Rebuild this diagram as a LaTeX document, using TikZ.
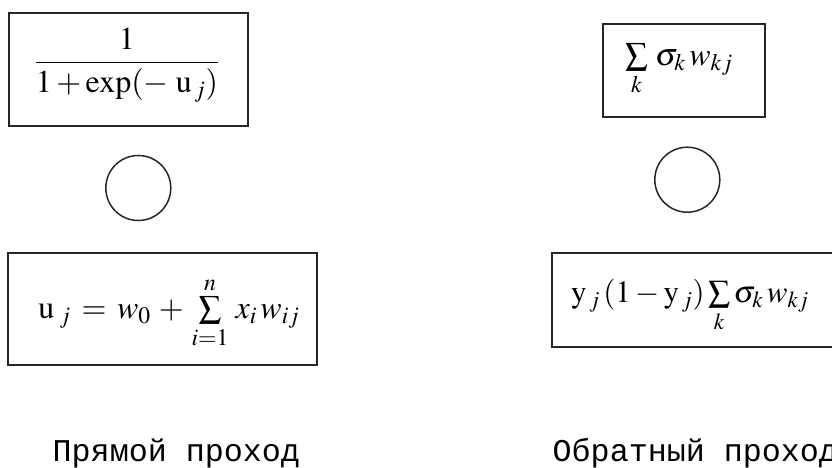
\documentclass[tikz,border=0pt]{standalone}
\usepackage[no-math]{fontspec}
\usepackage{amsmath}
\usepackage{mathptmx}
\newfontfamily\lblfont{Liberation Mono}
\begin{document}
\begin{tikzpicture}[x=1pt,y=-1pt,
  box/.style={draw=black!85, line width=1.5pt, inner sep=0pt},
  ring/.style={draw=black!85, line width=1.5pt, circle, inner sep=0pt, minimum size=65pt},
  formula/.style={inner sep=0pt, font=\fontsize{31}{37}\selectfont},
  lbl/.style={inner sep=0pt, anchor=base west, font=\lblfont\fontsize{31.7}{36}\selectfont}]
\useasboundingbox (0,0) rectangle (832,468);
% boxes
\node[box, minimum width=239pt, minimum height=113pt] (b1) at (128.5,69.5) {};
\node[box, minimum width=162pt, minimum height=93pt] (b2) at (684,70.5) {};
\node[box, minimum width=309pt, minimum height=112pt] (b3) at (162.5,309) {};
\node[box, minimum width=288pt, minimum height=94pt] (b4) at (696,300) {};
% circles
\node[ring] (c1) at (138.3,188) {};
\node[ring] (c2) at (687.3,179.7) {};
% formulas
\node[formula, font=\fontsize{32}{38}\selectfont] (f1) at (127,65)
  {$\displaystyle\frac{1}{1+\exp(-\;\mathrm{u}_{\,j})}$};
\node[formula, font=\fontsize{32}{38}\selectfont] (f2) at (679,70)
  {$\sum\limits_{k}\,\sigma_{k}\, w_{kj}$};
\node[formula, font=\fontsize{32}{38}\selectfont] (f3) at (169,313)
  {$\mathrm{u}_{\;j} \,=\, w_{0}\,+\,\sum\limits_{i=1}^{n}\, x_{i}\, w_{ij}$};
\node[formula] (f4) at (690,306)
  {$\mathrm{y}_{\,j}\,(1-\mathrm{y}_{\,j})\sum\limits_{k}\sigma_{k}\, w_{kj}$};
% labels
\node[lbl] (l1) at (52.5,461) {Прямой проход};
\node[lbl] (l2) at (552.5,461) {Обратный проход};
\end{tikzpicture}
\end{document}
